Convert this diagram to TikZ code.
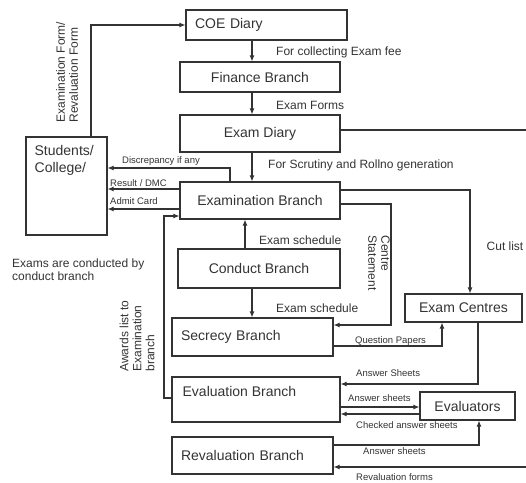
\documentclass[tikz,border=0pt]{standalone}
\usepackage{fontspec}
\setmainfont{Liberation Sans}
\usetikzlibrary{arrows.meta,positioning,calc}
\colorlet{ink}{black!80}
\tikzset{
  box/.style={draw=ink, line width=1.1pt, text=ink, font=\fontsize{14}{17}\selectfont, inner sep=0pt},
  lbox/.style={box, align=left, inner xsep=9pt, text width=#1},
  boxtxt/.style={text=ink, font=\fontsize{14}{17}\selectfont, inner sep=0pt},
  conn/.style={draw=ink, line width=1.1pt, -{Latex[length=6pt,width=5pt]}},
  plain/.style={draw=ink, line width=1.1pt},
  midtxt/.style={text=ink, font=\fontsize{12}{13}\selectfont, inner sep=0pt},
  smalltxt/.style={text=ink, font=\fontsize{9.5}{10}\selectfont, inner sep=0pt},
}
\begin{document}
\begin{tikzpicture}[x=1pt,y=-1pt]
    \useasboundingbox (0,0) rectangle (526,482);

    % Boxes
    \node[lbox=143pt, minimum height=30pt] (coe) at (266.5,25) {COE Diary};
    \node[box, minimum width=160pt, minimum height=30pt] (finance) at (260,77) {Finance Branch};
    \node[box, minimum width=160pt, minimum height=37pt] (examdiary) at (260,133.5) {Exam Diary};
    \node[box, minimum width=160pt, minimum height=37pt] (exambr) at (260,200.5) {Examination Branch};
    \node[box, minimum width=162pt, minimum height=39pt] (conduct) at (259,268.5) {Conduct Branch};
    \node[lbox=143pt, minimum height=38pt] (secrecy) at (252.5,337) {Secrecy Branch};
    \node[box, minimum width=168pt, minimum height=45pt] (evaluation) at (256,399.5) {};
    \node[boxtxt, anchor=west] (evaltext) at ([xshift=11pt,yshift=-15pt]evaluation.north west) {Evaluation Branch};
    \node[lbox=143pt, minimum height=37pt] (revaluation) at (252.5,455.5) {Revaluation Branch};
    \node[box, minimum width=117pt, minimum height=28pt] (centres) at (463.5,308) {Exam Centres};
    \node[box, minimum width=95pt, minimum height=28pt] (evaluators) at (467.5,406) {Evaluators};
    \node[box, minimum width=81pt, minimum height=98pt] (students) at (66.5,186) {};
    \node[boxtxt, anchor=north west, align=left] (studtext) at ([xshift=9pt,yshift=-9pt]students.north west) {Students/\\College/};

    % Helper coordinates
    \coordinate (colx) at (252,0);
    \coordinate (upx) at (245,0);
    \coordinate (cstmt) at (391,260);
    \coordinate (awx) at (164,300);
    \coordinate (rightedge) at (526,0);
    \coordinate (diaryout) at ([yshift=3.5pt]examdiary.east);
    \coordinate (revalin) at ([yshift=-11.5pt]revaluation.east);

    % Main column
    \draw[conn] ([xshift=24.5pt]students.north) |- (coe.west);
    \draw[conn] (coe.south -| colx) -- (finance.north -| colx);
    \draw[conn] (finance.south -| colx) -- (examdiary.north -| colx);
    \draw[conn] (examdiary.south -| colx) -- (exambr.north -| colx);
    \draw[plain] (diaryout) -- (diaryout -| rightedge);
    \draw[conn] (conduct.north -| upx) -- (exambr.south -| upx);
    \draw[conn] (conduct.south -| colx) -- (secrecy.north -| colx);

    % Examination branch to the right
    \draw[conn] ([yshift=10.5pt]exambr.east) -| ([xshift=6.5pt]centres.north);
    \draw[conn] ([yshift=-3.5pt]exambr.east) -| (cstmt) |- ([yshift=12pt]secrecy.east);

    % Examination branch to students
    \draw[conn] ([xshift=-30pt]exambr.north) |- ([yshift=18pt]students.east);
    \draw[conn] ([yshift=11.5pt]exambr.west) -- ([yshift=-3pt]students.east);
    \draw[conn] ([yshift=-8.5pt]exambr.west) -- ([yshift=-23pt]students.east);
    \draw[conn] ([yshift=1.5pt]evaluation.west) -| (awx) |- ([yshift=-15.5pt]exambr.west);

    % Lower part
    \draw[conn] ([yshift=-9pt]secrecy.east) -| ([xshift=-21.5pt]centres.south);
    \draw[conn] ([xshift=14.5pt]centres.south) |- ([yshift=15.5pt]evaluation.east);
    \draw[conn] ([yshift=-7.5pt]evaluation.east) -- ([yshift=-1pt]evaluators.west);
    \draw[conn] ([yshift=-8pt]evaluators.west) -- ([yshift=-14.5pt]evaluation.east);
    \draw[conn] ([yshift=10.5pt]revaluation.east) -| ([xshift=11.5pt]evaluators.south);
    \draw[conn] (revalin -| rightedge) -- (revalin);

    % Labels
    \node[midtxt, anchor=west] (feelbl) at (276,52) {For collecting Exam fee};
    \node[midtxt, anchor=west] (formslbl) at (276,105) {Exam Forms};
    \node[midtxt, anchor=west] (scrutinylbl) at (268,165) {For Scrutiny and Rollno generation};
    \node[midtxt, anchor=west] (schedup) at (259,240) {Exam schedule};
    \node[midtxt, anchor=west] (scheddown) at (276,308) {Exam schedule};
    \node[midtxt] (cutlbl) at (505,246) {Cut list};
    \node[midtxt, rotate=-90, align=left] (cstmtlbl) at (379,263) {Centre\\Statement};
    \node[midtxt, rotate=90, align=left] (formlbl) at (67,72) {Examination Form/\\Revaluation Form};
    \node[midtxt, rotate=90, align=left] (awardslbl) at (137,336) {Awards list to\\Examination\\branch};
    \node[midtxt, anchor=west, align=left] (conductnote) at (12,270) {Exams are conducted by\\conduct branch};

    \node[smalltxt, anchor=west] (discrlbl) at (122,161) {Discrepancy if any};
    \node[smalltxt, anchor=west] (resultlbl) at (110,183) {Result / DMC};
    \node[smalltxt, anchor=west] (admitlbl) at (110,201) {Admit Card};
    \node[smalltxt, anchor=west] (qplbl) at (355,341) {Question Papers};
    \node[smalltxt, anchor=west] (anslbl) at (356,373) {Answer Sheets};
    \node[smalltxt, anchor=west] (toevallbl) at (348,398) {Answer sheets};
    \node[smalltxt, anchor=west] (checkedlbl) at (356,425) {Checked answer sheets};
    \node[smalltxt, anchor=west] (revanslbl) at (363,451) {Answer sheets};
    \node[smalltxt, anchor=west] (revformlbl) at (356,477) {Revaluation forms};
\end{tikzpicture}
\end{document}
